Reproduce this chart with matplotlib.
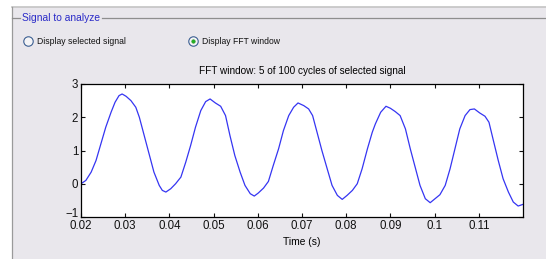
"""
plot.py - FFT window view of the selected signal, drawn inside a GUI-like panel
"""
import matplotlib
matplotlib.use("Agg")
import matplotlib.pyplot as plt
import matplotlib.transforms as mtransforms
from matplotlib.lines import Line2D
from matplotlib.patches import Rectangle

# signal samples (time in s, amplitude)
time_s = [0.0200, 0.0211, 0.0223, 0.0234, 0.0245, 0.0256, 0.0268, 0.0277, 0.0286,
          0.0293, 0.0302, 0.0313, 0.0324, 0.0332, 0.0343, 0.0354, 0.0365, 0.0377,
          0.0384, 0.0392, 0.0403, 0.0414, 0.0426, 0.0437, 0.0448, 0.0459, 0.0471,
          0.0482, 0.0492, 0.0504, 0.0516, 0.0527, 0.0537, 0.0548, 0.0560, 0.0571,
          0.0583, 0.0592, 0.0601, 0.0613, 0.0624, 0.0635, 0.0647, 0.0658, 0.0670,
          0.0681, 0.0691, 0.0704, 0.0715, 0.0724, 0.0734, 0.0745, 0.0757, 0.0768,
          0.0780, 0.0791, 0.0802, 0.0814, 0.0825, 0.0836, 0.0848, 0.0859, 0.0866,
          0.0878, 0.0890, 0.0900, 0.0911, 0.0922, 0.0934, 0.0945, 0.0956, 0.0967,
          0.0979, 0.0990, 0.1001, 0.1012, 0.1024, 0.1035, 0.1046, 0.1057, 0.1069,
          0.1080, 0.1090, 0.1102, 0.1114, 0.1123, 0.1133, 0.1144, 0.1155, 0.1167,
          0.1178, 0.1189, 0.1200]
amplitude = [0.00, 0.10, 0.35, 0.70, 1.20, 1.70, 2.15, 2.45, 2.65,
             2.70, 2.63, 2.50, 2.30, 2.00, 1.45, 0.90, 0.35, -0.05,
             -0.20, -0.25, -0.15, 0.00, 0.20, 0.65, 1.15, 1.70, 2.20,
             2.47, 2.55, 2.43, 2.33, 2.05, 1.45, 0.85, 0.35, -0.05,
             -0.30, -0.37, -0.28, -0.13, 0.07, 0.55, 1.05, 1.60, 2.05,
             2.30, 2.43, 2.35, 2.25, 2.05, 1.55, 1.00, 0.45, -0.05,
             -0.35, -0.47, -0.35, -0.20, 0.00, 0.45, 1.05, 1.55, 1.80,
             2.15, 2.33, 2.27, 2.17, 2.05, 1.65, 1.05, 0.50, -0.05,
             -0.45, -0.57, -0.45, -0.33, -0.05, 0.45, 1.05, 1.65, 2.05,
             2.23, 2.25, 2.13, 2.03, 1.85, 1.30, 0.70, 0.15, -0.25,
             -0.55, -0.67, -0.62]

x_ticks = [0.02, 0.03, 0.04, 0.05, 0.06, 0.07, 0.08, 0.09, 0.1, 0.11]
x_labels = ["0.02", "0.03", "0.04", "0.05", "0.06", "0.07", "0.08", "0.09", "0.1", "0.11"]
y_ticks = [-1, 0, 1, 2, 3]

PANEL = "#E9E7EC"
W, H = 546, 259

plt.rcParams["font.family"] = ["Liberation Sans", "DejaVu Sans"]
fig = plt.figure(figsize=(W / 100, H / 100), dpi=100, facecolor="white")

# panel background and frame (figure pixels -> fractions)
fx = lambda px: px / W
fy = lambda py: 1 - py / H
fig.add_artist(Rectangle((fx(12), 0), 1 - fx(12), fy(7), transform=fig.transFigure,
                         facecolor=PANEL, edgecolor="none", zorder=0))
fig.add_artist(Line2D([fx(12), 1], [fy(7), fy(7)], color="#C4C4C4", lw=1.2))
fig.add_artist(Line2D([fx(12), fx(12)], [0, fy(7)], color="#9A9A9A", lw=0.9))
fig.add_artist(Line2D([fx(12), fx(20)], [fy(18), fy(18)], color="#8E8E8E", lw=0.9))
fig.add_artist(Line2D([fx(102), 1], [fy(18), fy(18)], color="#8E8E8E", lw=0.9))
fig.text(fx(22), fy(18), "Signal to analyze", color="#2B2BC8", fontsize=7.4,
         va="center", ha="left")

# radio buttons
for cx, label, checked in [(28, "Display selected signal", False),
                           (193, "Display FFT window", True)]:
    fig.add_artist(Line2D([fx(cx)], [fy(41)], marker="o", markersize=6.8,
                          markerfacecolor="#F4F4F6", markeredgecolor="#3C5F92",
                          markeredgewidth=0.8, transform=fig.transFigure))
    if checked:
        fig.add_artist(Line2D([fx(cx)], [fy(41)], marker="o", markersize=2.6,
                              markerfacecolor="#22B022", markeredgecolor="#1C8A1C",
                              markeredgewidth=0.3, transform=fig.transFigure))
    fig.text(fx(cx + 9), fy(41), label, fontsize=6.2, va="center", ha="left",
             color="#111111")

ax = fig.add_axes([fx(81), fy(217), fx(523) - fx(81), fy(84) - fy(217)])
ax.plot(time_s, amplitude, color="#3535F2", lw=0.9)
ax.set_xlim(0.02, 0.12)
ax.set_ylim(-1, 3)
ax.set_xticks(x_ticks)
ax.set_xticklabels(x_labels)
ax.set_yticks(y_ticks)
ax.tick_params(direction="in", length=3, width=0.8, labelsize=8.3, pad=2,
               top=True, right=True, colors="#111111")
for s in ax.spines.values():
    s.set_linewidth(0.9)
ax.set_title("FFT window: 5 of 100 cycles of selected signal", fontsize=7.2, pad=7)
ax.set_xlabel("Time (s)", fontsize=7.4, labelpad=4)

# the bottom "-1" sits a little higher than its tick, as in the original
lbl = ax.get_yticklabels()[0]
lbl.set_transform(lbl.get_transform()
                  + mtransforms.ScaledTranslation(0, 3 / 72, fig.dpi_scale_trans))

plt.savefig("out.png", dpi=100, facecolor="white")
